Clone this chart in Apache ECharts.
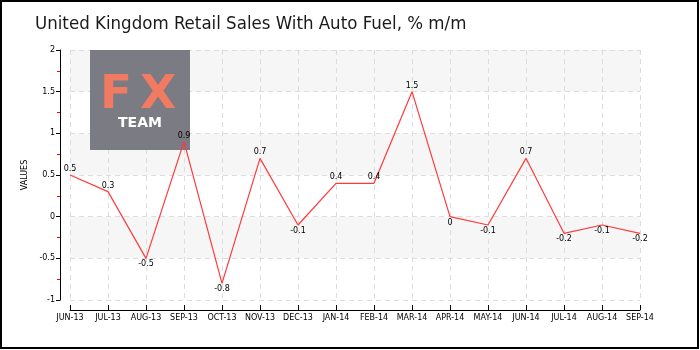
<!DOCTYPE html>
<html>
<head>
<meta charset="utf-8">
<script src="https://cdn.jsdelivr.net/npm/echarts@6/dist/echarts.min.js"></script>
<style>
html,body{margin:0;padding:0;background:#fff;}
#c{width:700px;height:350px;}
</style>
</head>
<body>
<div id="c"></div>
<script>
var titleText = 'United Kingdom Retail Sales With Auto Fuel, % m/m';
var categories = ['JUN-13','JUL-13','AUG-13','SEP-13','OCT-13','NOV-13','DEC-13','JAN-14','FEB-14','MAR-14','APR-14','MAY-14','JUN-14','JUL-14','AUG-14','SEP-14'];
var values = [0.5, 0.3, -0.5, 0.9, -0.8, 0.7, -0.1, 0.4, 0.4, 1.5, 0, -0.1, 0.7, -0.2, -0.1, -0.2];
var yAxisName = 'VALUES';

var chart = echarts.init(document.getElementById('c'), null, {renderer: 'canvas'});
var seriesData = values.map(function (v) {
  return {value: v, label: {position: v <= 0 ? 'bottom' : 'top'}};
});
var option = {
  animation: false,
  backgroundColor: '#ffffff',
  title: {
    text: titleText,
    left: 30, top: 10,
    textStyle: {fontFamily: '"DejaVu Sans Condensed"', fontSize: 18.5, fontWeight: 'normal', color: '#1a1a1a'}
  },
  grid: {left: 70, right: 60, top: 50, bottom: 50, containLabel: false},
  graphic: [
    {type: 'rect', z: 100, silent: true, shape: {x: 1, y: 1, width: 697, height: 347},
     style: {fill: 'none', stroke: '#000', lineWidth: 2}},
    {type: 'rect', z: 1, silent: true, shape: {x: 90, y: 50, width: 100, height: 100}, style: {fill: '#7b7b83'}},
    {type: 'text', z: 1, silent: true, x: 116, y: 96, style: {text: 'F', fill: '#f07a62', font: 'bold 47px "DejaVu Sans"', textAlign: 'center', textVerticalAlign: 'middle'}},
    {type: 'text', z: 1, silent: true, x: 158, y: 96, style: {text: 'X', fill: '#f07a62', font: 'bold 47px "DejaVu Sans"', textAlign: 'center', textVerticalAlign: 'middle'}},
    {type: 'text', z: 1, silent: true, x: 140, y: 123, style: {text: 'TEAM', fill: '#ffffff', font: 'bold 14px "DejaVu Sans"', textAlign: 'center', textVerticalAlign: 'middle'}}
  ],
  xAxis: {
    type: 'category',
    data: categories,
    boundaryGap: false,
    offset: 10,
    axisLine: {onZero: false, lineStyle: {color: '#000', width: 1}},
    axisTick: {inside: true, length: 5, alignWithLabel: true, lineStyle: {color: '#000'}},
    axisLabel: {fontFamily: 'DejaVu Sans', fontSize: 8, color: '#000', margin: 4, interval: 0},
    splitLine: {show: true, lineStyle: {color: '#dddddd', type: [5, 4]}}
  },
  yAxis: {
    type: 'value',
    min: -1, max: 2, interval: 0.5,
    offset: 10,
    name: yAxisName,
    nameLocation: 'middle',
    nameGap: 23,
    nameRotate: 90,
    nameTextStyle: {fontFamily: 'DejaVu Sans', fontSize: 8, color: '#000'},
    axisLine: {show: true, lineStyle: {color: '#000', width: 1}},
    axisTick: {show: true, length: 4, lineStyle: {color: '#000'}},
    minorTick: {show: true, splitNumber: 2, length: 3, lineStyle: {color: '#ff0000', width: 1}},
    axisLabel: {fontFamily: 'DejaVu Sans', fontSize: 8, color: '#000', margin: 5},
    splitLine: {show: true, lineStyle: {color: '#dddddd', type: [5, 4]}},
    splitArea: {show: true, areaStyle: {color: ['#ffffff', '#f6f6f6']}}
  },
  series: [{
    type: 'line',
    data: seriesData,
    symbol: 'circle',
    symbolSize: 0,
    showSymbol: true,
    z: 3,
    lineStyle: {color: '#ff3a3a', width: 1.2},
    itemStyle: {color: '#ff3a3a'},
    label: {show: true, fontFamily: 'DejaVu Sans', fontSize: 8, color: '#000', distance: 2}
  }]
};
chart.setOption(option);
</script>
</body>
</html>
